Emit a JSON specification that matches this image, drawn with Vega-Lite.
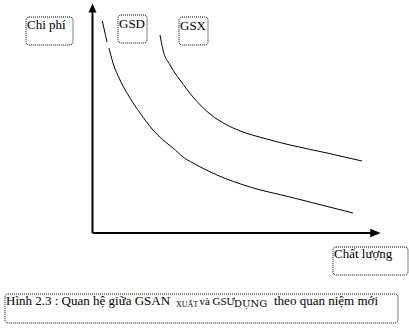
{
  "$schema": "https://vega.github.io/schema/vega-lite/v6.json",
  "width": 409,
  "height": 330,
  "padding": 0,
  "autosize": {"type": "fit", "contains": "padding"},
  "background": "white",
  "config": {"view": {"stroke": null}, "text": {"font": "Liberation Serif"}},
  "datasets": {
    "curves": [
      {"s": "GSD", "seg": 1, "q": 0.98, "c": 21.2},
      {"s": "GSD", "seg": 1, "q": 1.45, "c": 19.1},
      {"s": "GSD", "seg": 2, "q": 1.65, "c": 18.5},
      {"s": "GSD", "seg": 2, "q": 2.05, "c": 17.0},
      {"s": "GSD", "seg": 2, "q": 2.75, "c": 15.3},
      {"s": "GSD", "seg": 2, "q": 3.75, "c": 13.5},
      {"s": "GSD", "seg": 2, "q": 4.75, "c": 12.0},
      {"s": "GSD", "seg": 2, "q": 6.05, "c": 10.3},
      {"s": "GSD", "seg": 2, "q": 7.05, "c": 9.3},
      {"s": "GSD", "seg": 2, "q": 8.05, "c": 8.5},
      {"s": "GSD", "seg": 2, "q": 9.05, "c": 7.6},
      {"s": "GSD", "seg": 2, "q": 10.05, "c": 7.0},
      {"s": "GSD", "seg": 2, "q": 12.45, "c": 5.8},
      {"s": "GSD", "seg": 2, "q": 15.75, "c": 4.6},
      {"s": "GSD", "seg": 2, "q": 19.75, "c": 3.6},
      {"s": "GSD", "seg": 2, "q": 26.05, "c": 2.0},
      {"s": "GSX", "seg": 1, "q": 6.75, "c": 19.8},
      {"s": "GSX", "seg": 1, "q": 7.05, "c": 18.3},
      {"s": "GSX", "seg": 1, "q": 7.75, "c": 16.8},
      {"s": "GSX", "seg": 1, "q": 8.75, "c": 15.3},
      {"s": "GSX", "seg": 1, "q": 10.05, "c": 13.6},
      {"s": "GSX", "seg": 1, "q": 11.75, "c": 11.9},
      {"s": "GSX", "seg": 1, "q": 13.45, "c": 10.8},
      {"s": "GSX", "seg": 1, "q": 15.05, "c": 10.1},
      {"s": "GSX", "seg": 1, "q": 17.05, "c": 9.5},
      {"s": "GSX", "seg": 1, "q": 19.75, "c": 8.8},
      {"s": "GSX", "seg": 1, "q": 23.45, "c": 8.0},
      {"s": "GSX", "seg": 1, "q": 26.95, "c": 7.2}
    ],
    "boxes": [
      {"name": "Chi phí", "x1": -6.65, "x2": -1.95, "y1": 21.6, "y2": 18.8},
      {"name": "GSD", "x1": 2.55, "x2": 5.45, "y1": 21.8, "y2": 19.0},
      {"name": "GSX", "x1": 8.65, "x2": 11.55, "y1": 21.6, "y2": 18.8},
      {"name": "Chất lượng", "x1": 24.05, "x2": 31.55, "y1": -1.4, "y2": -4.2},
      {"name": "caption", "x1": -8.75, "x2": 30.55, "y1": -6.1, "y2": -9.0}
    ],
    "labels": [
      {"t": "Chi phí", "x": -6.55, "y": 20.4},
      {"t": "GSD", "x": 2.65, "y": 20.5},
      {"t": "GSX", "x": 8.75, "y": 20.3},
      {"t": "Chất lượng", "x": 24.15, "y": -2.5},
      {"t": "Hình 2.3 : Quan hệ giữa GSAN", "x": -8.65, "y": -7.2},
      {"t": "theo quan niệm mới", "x": 18.15, "y": -7.2}
    ],
    "mids": [
      {"t": "và", "x": 10.7, "y": -7.2},
      {"t": "GSƯ", "x": 12.0, "y": -7.2}
    ],
    "subs": [
      {"t": "XUẤT", "x": 8.35, "y": -7.4},
      {"t": "DỤNG", "x": 14.15, "y": -7.4}
    ],
    "axes": [
      {"a": "y", "x1": 0, "y1": 0, "x2": 0, "y2": 22.1},
      {"a": "x", "x1": 0, "y1": 0, "x2": 27.95, "y2": 0}
    ],
    "heads": [
      {"a": "up", "x": 0, "y": 22.5},
      {"a": "right", "x": 28.3, "y": 0}
    ]
  },
  "layer": [
    {
      "data": {"name": "axes"},
      "mark": {"type": "rule", "strokeWidth": 2, "color": "black"},
      "encoding": {
        "x": {"field": "x1", "type": "quantitative", "scale": {"domain": [-9.25, 31.65], "nice": false, "zero": false}, "axis": null},
        "y": {"field": "y1", "type": "quantitative", "scale": {"domain": [-9.7, 23.3], "nice": false, "zero": false}, "axis": null},
        "x2": {"field": "x2"},
        "y2": {"field": "y2"}
      }
    },
    {
      "data": {"name": "heads"},
      "transform": [{"filter": "datum.a === 'up'"}],
      "mark": {"type": "point", "shape": "M0,-1L0.9,1L-0.9,1Z", "filled": true, "color": "black", "size": 81, "opacity": 1},
      "encoding": {
        "x": {"field": "x", "type": "quantitative"},
        "y": {"field": "y", "type": "quantitative"}
      }
    },
    {
      "data": {"name": "heads"},
      "transform": [{"filter": "datum.a === 'right'"}],
      "mark": {"type": "point", "shape": "M1,0L-1,-0.8L-1,0.8Z", "filled": true, "color": "black", "size": 110, "opacity": 1},
      "encoding": {
        "x": {"field": "x", "type": "quantitative"},
        "y": {"field": "y", "type": "quantitative"}
      }
    },
    {
      "data": {"name": "curves"},
      "mark": {"type": "line", "color": "black", "strokeWidth": 1, "interpolate": "monotone"},
      "encoding": {
        "x": {"field": "q", "type": "quantitative"},
        "y": {"field": "c", "type": "quantitative"},
        "detail": [{"field": "s"}, {"field": "seg"}]
      }
    },
    {
      "data": {"name": "boxes"},
      "mark": {"type": "rect", "fill": null, "fillOpacity": 0, "stroke": "black", "strokeWidth": 1, "strokeDash": [1, 1], "cornerRadius": 3},
      "encoding": {
        "x": {"field": "x1", "type": "quantitative"},
        "x2": {"field": "x2"},
        "y": {"field": "y1", "type": "quantitative"},
        "y2": {"field": "y2"}
      }
    },
    {
      "data": {"name": "labels"},
      "mark": {"type": "text", "align": "left", "baseline": "alphabetic", "fontSize": 13, "color": "black"},
      "encoding": {
        "x": {"field": "x", "type": "quantitative"},
        "y": {"field": "y", "type": "quantitative"},
        "text": {"field": "t"}
      }
    },
    {
      "data": {"name": "mids"},
      "mark": {"type": "text", "align": "left", "baseline": "alphabetic", "fontSize": 11, "color": "black"},
      "encoding": {
        "x": {"field": "x", "type": "quantitative"},
        "y": {"field": "y", "type": "quantitative"},
        "text": {"field": "t"}
      }
    },
    {
      "data": {"name": "subs"},
      "transform": [{"filter": "datum.t === 'XUẤT'"}],
      "mark": {"type": "text", "align": "left", "baseline": "alphabetic", "fontSize": 8, "color": "black"},
      "encoding": {
        "x": {"field": "x", "type": "quantitative"},
        "y": {"field": "y", "type": "quantitative"},
        "text": {"field": "t"}
      }
    },
    {
      "data": {"name": "subs"},
      "transform": [{"filter": "datum.t === 'DỤNG'"}],
      "mark": {"type": "text", "align": "left", "baseline": "alphabetic", "fontSize": 10, "font": "DejaVu Serif", "color": "black"},
      "encoding": {
        "x": {"field": "x", "type": "quantitative"},
        "y": {"field": "y", "type": "quantitative"},
        "text": {"field": "t"}
      }
    }
  ]
}
